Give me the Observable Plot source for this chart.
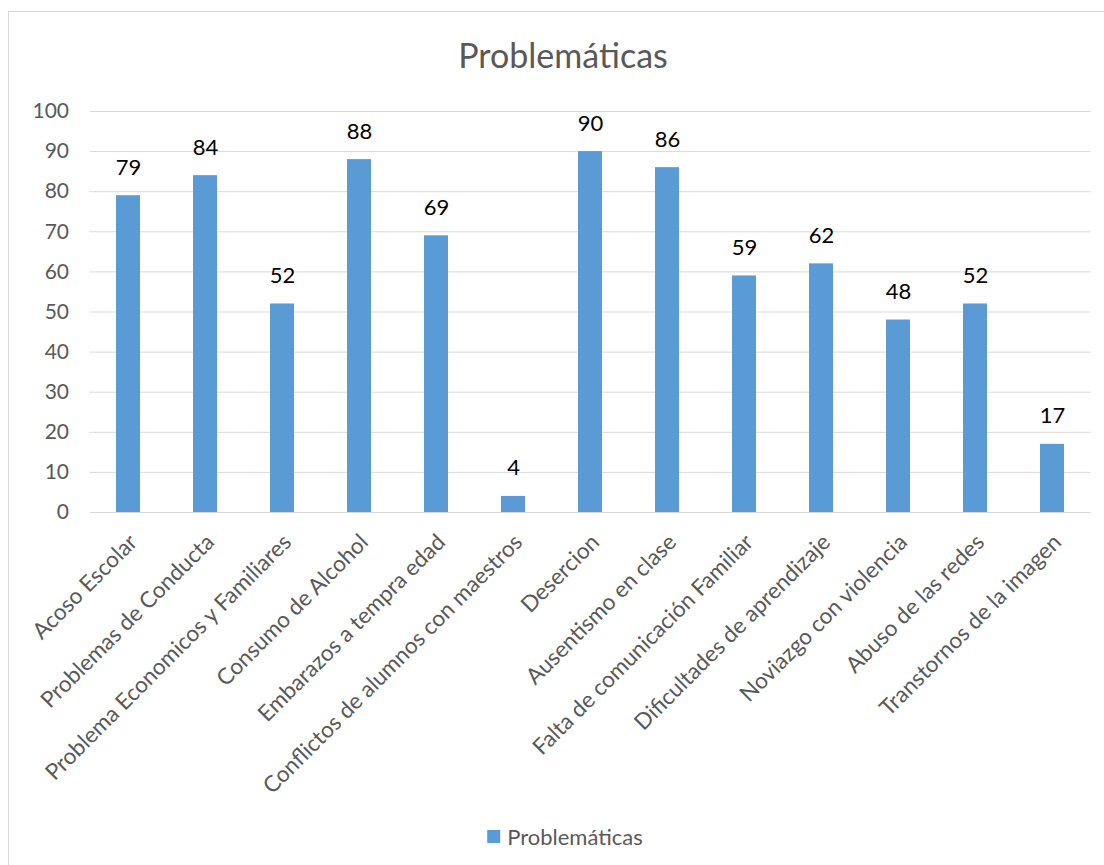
<!DOCTYPE html>
<html><head><meta charset="utf-8">
<script src="https://cdn.jsdelivr.net/npm/d3@7"></script>
<script src="https://cdn.jsdelivr.net/npm/@observablehq/plot@0.6"></script>
<style>
body{margin:0;background:#fff;font-family:Lato,"Open Sans",sans-serif;overflow:hidden}
#frame{position:absolute;left:8px;top:11px;width:1110px;height:870px;border:1px solid #d9d9d9;box-sizing:border-box}
#title{position:absolute;left:563px;top:38px;transform:translateX(-50%);font-size:34px;color:#595959;white-space:nowrap;line-height:1}
#chart{position:absolute;left:0;top:90px}
#legend{position:absolute;left:565px;top:823px;transform:translateX(-50%);font-size:22px;color:#595959;white-space:nowrap;display:flex;align-items:center;gap:7px}
#legend span.sw{display:inline-block;width:13px;height:13px;background:#5b9bd5}
</style></head>
<body>
<div id="frame"></div>
<div id="title">Problemáticas</div>
<div id="chart"></div>
<div id="legend"><span class="sw"></span><span>Problemáticas</span></div>
<script>
const categorias = ["Acoso Escolar","Problemas de Conducta","Problema Economicos y Familiares","Consumo de Alcohol","Embarazos a tempra edad","Conflictos de alumnos con maestros","Desercion","Ausentismo en clase","Falta de comunicación Familiar","Dificultades de aprendizaje","Noviazgo con violencia","Abuso de las redes","Transtornos de la imagen"];
const valores = [79,84,52,88,69,4,90,86,59,62,48,52,17];
const yTicks = [0,10,20,30,40,50,60,70,80,90,100];

const datos = categorias.map((c,i)=>({categoria:c, valor:valores[i]}));

const chart = Plot.plot({
  width:1104,
  height:730,
  marginLeft:89.5,
  marginRight:13.5,
  marginTop:21,
  marginBottom:308,
  style:{fontFamily:"Lato, 'Open Sans', sans-serif", background:"transparent", overflow:"visible"},
  x:{domain:categorias, paddingInner:0.69, paddingOuter:0.345, axis:null},
  y:{domain:[0,100], axis:null},
  marks:[
    Plot.ruleY(yTicks,{stroke:"#d9d9d9", strokeWidth:1}),
    Plot.text(yTicks,{x:null, y:d=>d, frameAnchor:"left", text:d=>String(d), textAnchor:"end", dx:-21, fontSize:21, fill:"#595959"}),
    Plot.barY(datos,{x:"categoria", y:"valor", fill:"#5b9bd5"}),
    Plot.text(datos,{x:"categoria", y:"valor", text:d=>String(d.valor), fontSize:22, fill:"#000", lineAnchor:"bottom", dy:-21}),
    Plot.text(datos,{x:"categoria", y:0, text:"categoria", rotate:-45, textAnchor:"end", lineAnchor:"middle", dx:5, dy:26, fontSize:22.5, fill:"#595959"})
  ]
});
document.getElementById("chart").appendChild(chart);
</script>
</body></html>
